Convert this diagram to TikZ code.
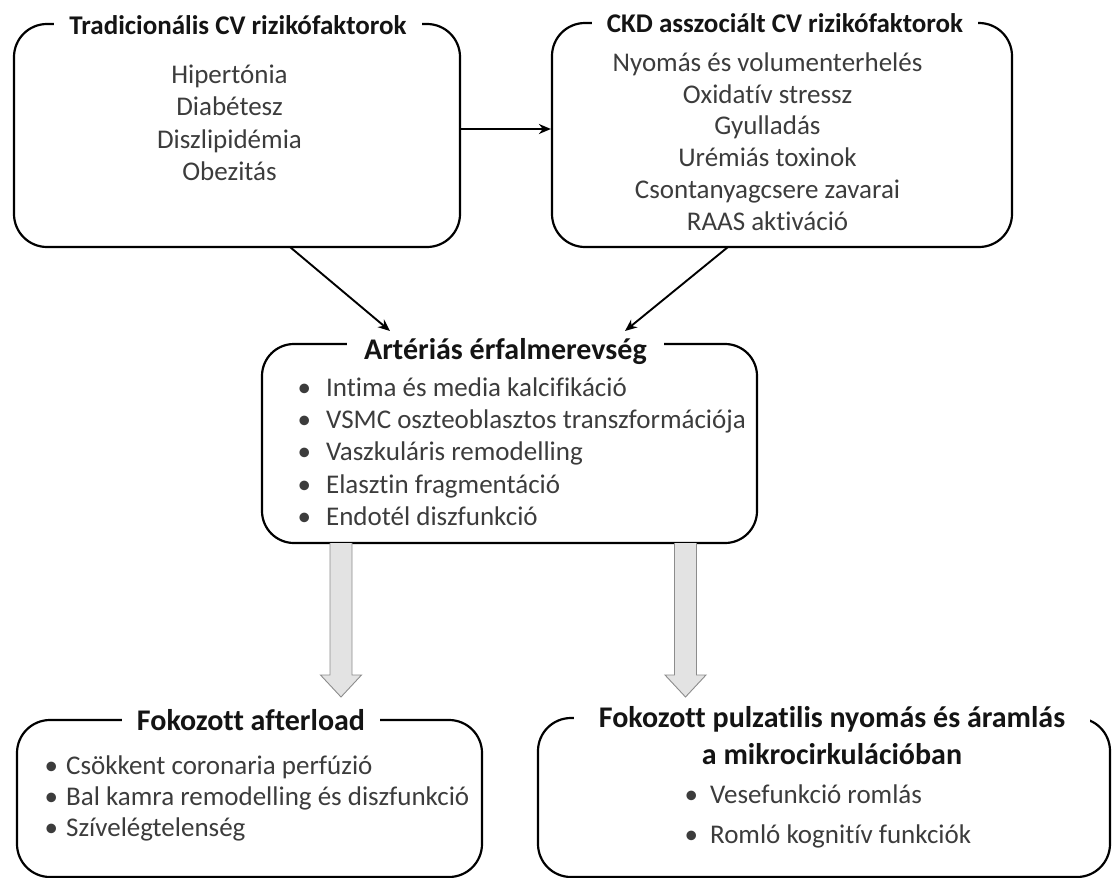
\documentclass[tikz,border=0pt]{standalone}
\usepackage{fontspec}
\setmainfont{Carlito}[Ligatures={NoCommon}]
\usetikzlibrary{arrows.meta,calc}
\definecolor{txt}{HTML}{3C3C3C}
\definecolor{arrfill}{HTML}{E3E3E3}
\definecolor{arrline}{HTML}{8C8C8C}
\tikzset{
  rbox/.style={draw=black, line width=2.2pt, rounded corners=33pt, minimum width=#1, inner sep=0pt},
  ttl/.style={fill=white, inner xsep=15pt, inner ysep=1pt, font=\bfseries\fontsize{#1}{#1}\selectfont, text=black!92},
  items/.style={align=center, inner sep=0pt, text=txt, font=\fontsize{27}{32.5}\selectfont},
  blist/.style={anchor=west, inner sep=0pt, text=txt, font=\fontsize{27}{32.2}\selectfont},
  conn/.style={line width=1.9pt, -{Stealth[length=12pt,width=10pt]}},
  fat/.style={fill=arrfill, draw=arrline, line width=0.9pt}
}
\begin{document}
\begin{tikzpicture}[x=1pt,y=-1pt]
\useasboundingbox (0,0) rectangle (1112,878);
% boxes
\node[rbox=446pt, minimum height=223pt] (box1) at (237,135.5) {};
\node[rbox=460pt, minimum height=224pt] (box2) at (782,135) {};
\node[rbox=495pt, minimum height=199pt, rounded corners=32pt] (mid) at (509.5,443.5) {};
\node[rbox=465pt, minimum height=157pt] (bl) at (249.5,798.5) {};
\node[rbox=572pt, minimum height=159pt] (br) at (824,797.5) {};
% titles
\node[ttl=27] (t1) at (238,25) {Tradicionális CV rizikófaktorok};
\node[ttl=27] (t2) at (785,23) {CKD asszociált CV rizikófaktorok};
\node[ttl=30, inner xsep=17pt] (t3) at (505.5,352) {Artériás érfalmerevség};
\node[ttl=30] (t4) at (251,720) {Fokozott afterload\hspace{12pt}};
\node[ttl=30, inner xsep=25pt, align=center, font=\bfseries\fontsize{30}{37}\selectfont] (t5) at (832,736) {Fokozott pulzatilis nyomás és áramlás\\a mikrocirkulációban};
% items
\node[items] (i1) at (229.5,123) {Hipertónia\\Diabétesz\\Diszlipidémia\\Obezitás};
\node[items, font=\fontsize{27}{31.8}\selectfont] (i2) at (767.5,141.5) {Nyomás és volumenterhelés\\Oxidatív stressz\\Gyulladás\\Urémiás toxinok\\Csontanyagcsere zavarai\\RAAS aktiváció};
\node[blist] (i3) at (297.5,454.5) {\begin{tabular}{@{}l@{\hspace{15pt}}l@{}}
•&Intima és media kalcifikáció\\
•&VSMC oszteoblasztos transzformációja\\
•&Vaszkuláris remodelling\\
•&Elasztin fragmentáció\\
•&Endotél diszfunkció\end{tabular}};
\node[blist, font=\fontsize{27}{31}\selectfont] (i4) at (44.5,799) {\begin{tabular}{@{}l@{\hspace{8pt}}l@{}}
•&Csökkent coronaria perfúzió\\
•&Bal kamra remodelling és diszfunkció\\
•&Szívelégtelenség\end{tabular}};
\node[blist, font=\fontsize{27}{40}\selectfont] (i5) at (684.5,815) {\begin{tabular}{@{}l@{\hspace{12pt}}l@{}}
•&Vesefunkció romlás\\
•&Romló kognitív funkciók\end{tabular}};
% connectors
\coordinate (h) at (0,129);
\draw[conn] (box1.east |- h) -- (box2.west |- h);
\coordinate (s1) at (290,247);
\coordinate (e1) at (390,331);
\coordinate (s2) at (728,247);
\coordinate (e2) at (625,331);
\draw[conn] (s1) -- (e1);
\draw[conn] (s2) -- (e2);
% fat arrows
\coordinate (fa) at (341,543);
\coordinate (fb) at (685.5,543);
\foreach \c in {fa,fb}{
  \draw[fat] ($(\c)+(-11,0)$) -- ($(\c)+(-11,132)$) -- ($(\c)+(-20.5,132)$) -- ($(\c)+(0,154)$) -- ($(\c)+(20.5,132)$) -- ($(\c)+(11,132)$) -- ($(\c)+(11,0)$);
}
\end{tikzpicture}
\end{document}
